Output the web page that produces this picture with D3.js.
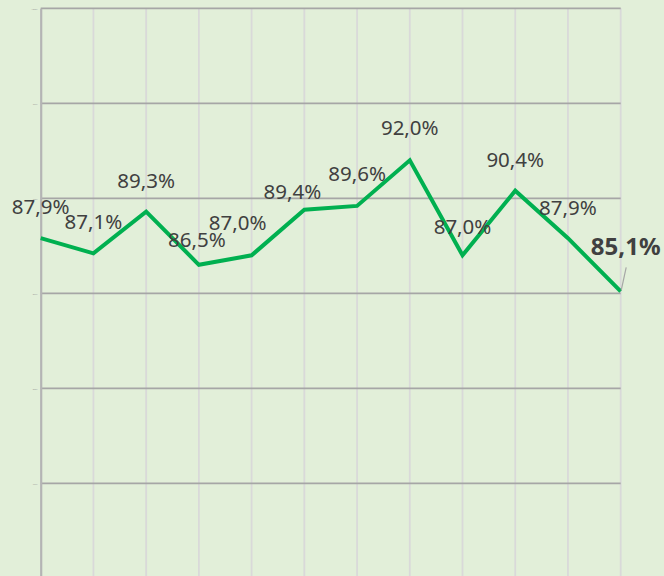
<!DOCTYPE html>
<html>
<head>
<meta charset="utf-8">
<script src="https://cdn.jsdelivr.net/npm/d3@7"></script>
<style>
  html, body { margin: 0; padding: 0; background: #e2efd9; }
  svg { display: block; }
</style>
</head>
<body>
<svg id="chart" width="664" height="576"></svg>
<script>
// Data
const categories = ["1","2","3","4","5","6","7","8","9","10","11","12"];
const values = [87.9, 87.1, 89.3, 86.5, 87.0, 89.4, 89.6, 92.0, 87.0, 90.4, 87.9, 85.1];
const labels = ["87,9%","87,1%","89,3%","86,5%","87,0%","89,4%","89,6%","92,0%","87,0%","90,4%","87,9%","85,1%"];
const yTicks = [75, 80, 85, 90, 95, 100];
const yTickLabels = ["75%","80%","85%","90%","95%","100%"];

// label offsets relative to point (dx, dy of baseline)
const labelDx = [0, 0, 0, -2, -14, -12, 0, 0, 0, 0, 0, 5];
const labelDy = [-24, -24, -24, -18, -25, -11, -25, -25, -21, -24, -23, -36];

const svg = d3.select("#chart");
const W = 664, H = 576;
svg.append("rect").attr("width", W).attr("height", H).attr("fill", "#e2efd9");

const x = d3.scalePoint().domain(categories).range([40.7, 620.7]);
const y = d3.scaleLinear().domain([70, 100]).range([578.3, 8.3]);

// vertical gridlines
svg.append("g").selectAll("line").data(categories.slice(1)).join("line")
  .attr("x1", d => x(d)).attr("x2", d => x(d))
  .attr("y1", y(100)).attr("y2", H)
  .attr("stroke", "#d9d9d9").attr("stroke-width", 1.8);

// horizontal gridlines
svg.append("g").selectAll("line").data(yTicks).join("line")
  .attr("x1", x(categories[0])).attr("x2", x(categories[categories.length - 1]))
  .attr("y1", d => y(d)).attr("y2", d => y(d))
  .attr("stroke", "#a6a6a6").attr("stroke-width", 1.7);

// left axis
const axis = d3.axisLeft(y).tickValues(yTicks).tickSize(0).tickPadding(3)
  .tickFormat((d, i) => yTickLabels[i]);
const ag = svg.append("g").attr("transform", `translate(${x(categories[0])},0)`).call(axis);
ag.select(".domain").attr("stroke", "#b4b4b4").attr("stroke-width", 2.2);
ag.selectAll("text").attr("font-size", 2.5).attr("fill", "#9a9a9a")
  .attr("font-family", "Noto Sans, sans-serif");

// line
const line = d3.line().x((d, i) => x(categories[i])).y(d => y(d));
svg.append("path").datum(values)
  .attr("d", line)
  .attr("fill", "none")
  .attr("stroke", "#00b050")
  .attr("stroke-width", 4)
  .attr("stroke-linejoin", "miter");

// leader line for last label
const li = values.length - 1;
svg.append("line")
  .attr("x1", x(categories[li]) + 0.5).attr("y1", y(values[li]) - 1)
  .attr("x2", x(categories[li]) + 5.5).attr("y2", y(values[li]) - 24)
  .attr("stroke", "#a6a6a6").attr("stroke-width", 1.2);

// data labels
svg.append("g").selectAll("text").data(values).join("text")
  .attr("x", (d, i) => x(categories[i]) + labelDx[i])
  .attr("y", (d, i) => y(d) + labelDy[i])
  .attr("text-anchor", "middle")
  .attr("font-family", "Noto Sans, sans-serif")
  .attr("font-size", (d, i) => i === li ? 24 : 20.5)
  .attr("font-weight", (d, i) => i === li ? "bold" : "normal")
  .attr("fill", "#404040")
  .text((d, i) => labels[i]);
</script>
</body>
</html>
